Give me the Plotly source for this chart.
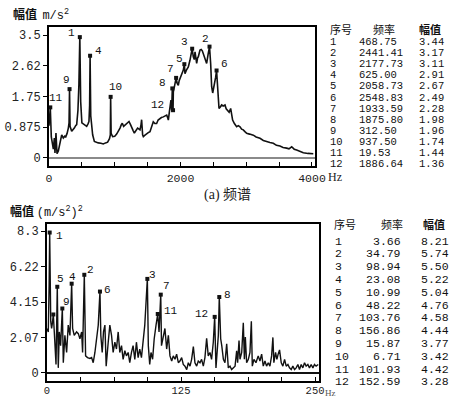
import plotly.graph_objects as go

# ---------------- data: (a) spectrum ----------------
top_freq = [
    0, 10, 19.53, 35, 55, 66, 81, 91, 106, 122,
    142, 167, 193, 218, 240, 254, 275, 294, 305, 312.5,
    320, 345, 365, 385, 405, 421, 440, 455, 468.75, 482,
    500, 537, 573, 595, 608, 618, 625, 635, 664, 690,
    720, 750, 790, 826, 860, 892, 920, 933, 937.5, 945,
    968, 1000, 1029, 1055, 1080, 1100, 1115, 1135, 1156, 1180,
    1217, 1240, 1257, 1280, 1298, 1320, 1348, 1370, 1384, 1400,
    1409, 1424, 1435, 1460, 1485, 1510, 1536, 1560, 1586, 1610,
    1637, 1660, 1688, 1710, 1739, 1765, 1790, 1805, 1815, 1830,
    1840, 1855, 1866, 1875.8, 1886.64, 1891, 1910, 1933.59, 1950, 1967,
    1980, 1992, 2020, 2043, 2058.73, 2068, 2090, 2119, 2144, 2160,
    2177.73, 2195, 2210, 2221, 2235, 2246, 2260, 2271, 2297, 2315,
    2332, 2350, 2362, 2380, 2398, 2420, 2441.41, 2459, 2474, 2490,
    2499, 2515, 2535, 2548.83, 2560, 2575, 2586, 2606, 2626, 2650,
    2677, 2695, 2712, 2740, 2763, 2780, 2793, 2820, 2854, 2880,
    2905, 2930, 2955, 2980, 3007, 3050, 3108, 3150, 3209, 3260,
    3311, 3360, 3412, 3460, 3513, 3560, 3615, 3650, 3691, 3730,
    3767, 3820, 3868, 3940, 4020,
]
top_amp = [
    0.92, 1.10, 1.44, 0.60, 0.30, 0.25, 0.57, 0.14, 0.71, 0.12,
    0.20, 0.47, 0.66, 0.57, 0.62, 0.60, 0.70, 0.85, 1.00, 1.96,
    0.90, 0.76, 0.80, 0.85, 0.92, 0.95, 1.35, 2.10, 3.44, 1.60,
    1.00, 0.95, 0.90, 0.98, 1.04, 1.50, 2.91, 1.20, 0.66, 0.47,
    0.44, 0.43, 0.42, 0.40, 0.43, 0.45, 0.55, 0.66, 1.74, 0.70,
    0.61, 0.62, 0.68, 0.75, 0.85, 0.95, 0.99, 0.90, 0.93, 0.98,
    1.04, 0.95, 0.85, 0.78, 0.71, 0.78, 0.85, 0.82, 0.80, 0.95,
    1.09, 0.66, 0.61, 0.65, 0.70, 0.72, 0.75, 0.88, 1.03, 0.98,
    0.98, 1.08, 1.13, 1.15, 1.17, 1.20, 1.22, 1.15, 1.08, 1.30,
    1.46, 1.65, 1.36, 1.98, 1.36, 1.88, 2.05, 2.28, 2.12, 2.07,
    2.20, 2.26, 2.35, 2.50, 2.67, 2.40, 2.50, 2.59, 2.78, 2.90,
    3.11, 2.88, 2.80, 3.02, 2.85, 2.69, 2.85, 2.88, 3.07, 3.09,
    3.05, 2.93, 2.85, 2.75, 2.69, 2.95, 3.17, 2.69, 2.03, 1.85,
    1.93, 2.10, 2.30, 2.49, 2.12, 1.80, 1.41, 1.45, 1.51, 1.48,
    1.51, 1.40, 1.36, 1.30, 1.41, 1.20, 1.08, 0.98, 0.89, 0.92,
    0.89, 0.82, 0.80, 0.75, 0.70, 0.68, 0.65, 0.60, 0.56, 0.50,
    0.46, 0.44, 0.42, 0.36, 0.34, 0.30, 0.28, 0.26, 0.32, 0.25,
    0.23, 0.18, 0.15, 0.13, 0.12,
]
top_tbl_no = ["1", "2", "3", "4", "5", "6", "7", "8", "9", "10", "11", "12"]
top_tbl_freq = [468.75, 2441.41, 2177.73, 625.00, 2058.73, 2548.83,
                1933.59, 1875.80, 312.50, 937.50, 19.53, 1886.64]
top_tbl_amp = [3.44, 3.17, 3.11, 2.91, 2.67, 2.49, 2.28, 1.98, 1.96, 1.74, 1.44, 1.36]
top_yticks = [0, 0.875, 1.75, 2.62, 3.5]
top_ytext = ["0", "0.875", "1.75", "2.62", "3.5"]
top_xticks = [0, 2000, 4000]
top_xminor = 500

# ---------------- data: power spectrum ----------------
bot_freq = [
    0, 1.2, 2.0, 2.5, 3.5, 4.3, 5.0, 5.9, 6.8, 7.4,
    8.4, 9.6, 10.5, 11.5, 12.7, 14.3, 15.2, 16.7, 18.3, 19.8,
    21.4, 23.0, 23.9, 25.4, 27.6, 29.2, 30.7, 32.3, 33.2, 34.8,
    36.0, 37.8, 40.0, 41.6, 43.1, 44.7, 46.2, 47.8, 49.4, 50.2,
    51.5, 52.7, 54.0, 55.2, 57.1, 58.6, 60.2, 61.7, 63.3, 64.8,
    66.4, 67.9, 69.5, 71.0, 72.6, 74.1, 75.7, 77.2, 78.8, 80.3,
    81.9, 83.4, 85.0, 86.5, 88.1, 89.6, 91.2, 93.6, 94.5, 95.8,
    97.0, 98.5, 100.0, 101.7, 103.3, 104.5, 106.1, 106.8, 108.5, 110.0,
    111.6, 113.2, 114.7, 116.3, 117.8, 119.4, 120.9, 122.5, 124.0, 125.6,
    127.1, 128.7, 130.3, 131.8, 133.4, 134.9, 136.5, 138.0, 139.6, 141.1,
    142.7, 144.2, 145.8, 147.3, 148.9, 150.4, 152.0, 153.5, 155.1, 156.4,
    157.6, 158.8, 159.8, 160.7, 162.0, 163.0, 164.5, 166.0, 167.6, 169.1,
    170.7, 172.2, 173.8, 175.4, 176.9, 177.8, 179.1, 180.0, 181.6, 183.1,
    184.1, 185.0, 186.2, 187.8, 189.3, 190.6, 191.5, 193.0, 194.9, 197.0,
    198.6, 200.2, 201.7, 203.3, 204.8, 206.4, 207.9, 209.5, 210.7, 211.6,
    213.2, 214.4, 215.6, 216.9, 218.5, 220.0, 221.6, 223.1, 224.7, 226.2,
    227.8, 229.3, 230.9, 232.4, 234.0, 235.5, 237.1, 238.6, 240.2, 241.7,
    243.3, 244.8, 246.4, 248.0, 249.5, 251.0, 253.0,
]
bot_amp = [
    2.6, 2.4, 5.2, 8.21, 3.0, 2.6, 2.9, 3.42, 2.4, 1.8,
    0.5, 5.04, 0.3, 2.4, 1.6, 3.77, 0.6, 2.2, 1.2, 2.8,
    2.2, 5.22, 2.6, 2.2, 2.4, 2.3, 2.0, 2.4, 1.2, 5.74,
    1.0, 0.9, 0.85, 0.9, 0.6, 1.2, 2.0, 2.8, 4.76, 2.2,
    1.2, 2.4, 2.8, 0.4, 1.8, 2.8, 2.2, 1.2, 1.8, 1.4,
    2.4, 1.2, 1.6, 0.8, 1.3, 1.0, 1.2, 0.6, 1.2, 1.6,
    0.8, 1.8, 0.9, 1.4, 0.9, 1.8, 2.8, 5.50, 1.6, 0.5,
    1.2, 0.8, 2.0, 2.8, 3.45, 2.4, 4.58, 1.6, 2.2, 2.6,
    1.4, 2.2, 1.0, 0.7, 1.0, 0.8, 1.1, 0.6, 0.7, 0.9,
    0.5, 0.4, 0.2, 0.6, 0.4, 0.8, 1.54, 0.6, 0.4, 0.7,
    0.6, 0.8, 0.4, 0.9, 2.03, 1.0, 1.2, 0.8, 1.8, 3.28,
    0.3, 1.8, 2.2, 4.44, 2.0, 1.6, 0.8, 0.6, 1.7, 0.3,
    0.4, 0.2, 0.3, 0.4, 1.3, 0.6, 1.9, 0.8, 1.2, 2.93,
    0.8, 2.1, 0.6, 0.8, 1.2, 3.02, 0.4, 0.8, 0.6, 1.0,
    0.7, 1.1, 0.4, 0.7, 0.4, 0.6, 0.4, 1.0, 2.08, 0.6,
    1.2, 0.8, 1.1, 1.35, 0.6, 0.4, 0.8, 0.4, 0.5, 0.3,
    0.2, 0.4, 0.2, 0.3, 0.5, 0.2, 0.5, 0.3, 0.6, 0.4,
    0.5, 0.3, 0.5, 0.3, 0.5, 0.4, 0.5,
]
# peak positions as they appear on the drawn curve (numbered 1..12)
bot_peak_freq = [2.5, 34.8, 93.6, 23.0, 9.6, 49.4, 106.1, 160.7, 14.3, 5.9, 103.3, 156.4]
bot_peak_amp = [8.21, 5.74, 5.50, 5.22, 5.04, 4.76, 4.58, 4.44, 3.77, 3.42, 3.45, 3.28]
bot_tbl_no = ["1", "2", "3", "4", "5", "6", "7", "8", "9", "10", "11", "12"]
bot_tbl_freq = [3.66, 34.79, 98.94, 23.08, 10.99, 48.22, 103.76, 156.86, 15.87, 6.71, 101.93, 152.59]
bot_tbl_amp = [8.21, 5.74, 5.50, 5.22, 5.04, 4.76, 4.58, 4.44, 3.77, 3.42, 4.42, 3.28]
bot_yticks = [0, 2.07, 4.15, 6.22, 8.3]
bot_ytext = ["0", "2.07", "4.15", "6.22", "8.3"]
bot_xticks = [0, 125, 250]
bot_xminor = 31.25

# ---------------- layout helpers ----------------
W, H = 463, 399
MONO = "Liberation Mono, DejaVu Sans Mono, monospace"
CJK = "Noto Sans CJK SC, sans-serif"


def px(x):
    return x / W


def py(y):
    return 1 - y / H


fig = go.Figure()

fig.add_trace(go.Scatter(x=top_freq, y=top_amp, mode="lines",
                         line=dict(color="#111111", width=1.6),
                         xaxis="x", yaxis="y", showlegend=False, hoverinfo="skip"))
fig.add_trace(go.Scatter(x=top_tbl_freq, y=top_tbl_amp, mode="markers",
                         marker=dict(symbol="square", size=4, color="#111111"),
                         xaxis="x", yaxis="y", showlegend=False))
fig.add_trace(go.Scatter(x=bot_freq, y=bot_amp, mode="lines",
                         line=dict(color="#111111", width=1.4),
                         xaxis="x2", yaxis="y2", showlegend=False, hoverinfo="skip"))
fig.add_trace(go.Scatter(x=bot_peak_freq, y=bot_peak_amp, mode="markers",
                         marker=dict(symbol="square", size=4, color="#111111"),
                         xaxis="x2", yaxis="y2", showlegend=False))

tickfont = dict(family=MONO, size=12, color="#222")
common_x = dict(ticks="inside", ticklen=4, tickcolor="black", tickwidth=1,
                showline=True, mirror=True, linecolor="black", linewidth=2,
                showgrid=False, zeroline=False, tickmode="array",
                automargin=False)
common_y = dict(ticks="outside", ticklen=4, tickcolor="black", tickwidth=1,
                showline=True, mirror=True, linecolor="black", linewidth=2,
                showgrid=False, zeroline=True, tickfont=tickfont, tickmode="array",
                automargin=False)

fig.update_layout(
    template="none",
    width=W, height=H, autosize=False,
    margin=dict(l=0, r=0, t=0, b=0),
    paper_bgcolor="white", plot_bgcolor="white",
    xaxis=dict(domain=[px(49), px(315)], range=[0, 4046], anchor="y",
               tickvals=top_xticks, ticktext=[str(v) for v in top_xticks],
               tickfont=dict(family=MONO, size=11.5, color="#222"),
               minor=dict(ticks="inside", ticklen=4, tickcolor="black",
                          dtick=top_xminor, tick0=0, showgrid=False),
               **common_x),
    yaxis=dict(domain=[py(166), py(27)], range=[-0.228, 3.728], anchor="x",
               tickvals=top_yticks, ticktext=top_ytext,
               zerolinecolor="#8a8a8a", zerolinewidth=1.5, **common_y),
    xaxis2=dict(domain=[px(47), px(319)], range=[0, 253.7], anchor="y2",
                tickvals=bot_xticks, ticktext=[str(v) for v in bot_xticks],
                tickfont=dict(family=MONO, size=10.5, color="#222"),
                ticklabelstandoff=-2,
                minor=dict(ticks="inside", ticklen=4, tickcolor="black",
                           dtick=bot_xminor, tick0=0, showgrid=False),
                **common_x),
    yaxis2=dict(domain=[py(381), py(224)], range=[-0.468, 8.709], anchor="x2",
                tickvals=bot_yticks, ticktext=bot_ytext,
                zerolinecolor="#111111", zerolinewidth=1.5, **common_y),
)

ann = []
lblfont = dict(family=MONO, size=11, color="#111")
# peak number labels (offsets in pixels)
top_off = [(-8, -4), (-4, -8), (-8, -7), (8, -5), (-5, -5), (8, -7),
           (-6, -9), (-10, -5), (-3, -9), (5, -10), (6, -9), (-16, -5)]
for i, (dx, dy) in enumerate(top_off):
    ann.append(dict(x=top_tbl_freq[i], y=top_tbl_amp[i], xref="x", yref="y",
                    text=top_tbl_no[i], showarrow=False, xshift=dx, yshift=-dy,
                    font=lblfont))
bot_off = [(10, 3), (6, -5), (5, -4), (1, -7), (3, -8), (8, -2),
           (6, -9), (8, -2), (4, -7), None, (13, -3), (-13, -3)]
for i, off in enumerate(bot_off):
    if off is None:
        continue
    dx, dy = off
    ann.append(dict(x=bot_peak_freq[i], y=bot_peak_amp[i], xref="x2", yref="y2",
                    text=bot_tbl_no[i], showarrow=False, xshift=dx, yshift=-dy,
                    font=lblfont))


def txt(x, y, s, font, xanchor="left"):
    ann.append(dict(x=px(x), y=py(y), xref="paper", yref="paper", text=s,
                    showarrow=False, xanchor=xanchor, yanchor="middle", font=font,
                    borderpad=0))


cjk12 = dict(family=CJK, size=12, color="#111")
# axis titles / units
txt(12, 14, "<b>幅值</b>  <span style='font-family:Liberation Mono'>m/s<sup>2</sup></span>", cjk12)
txt(9, 211, "<b>幅值</b> <span style='font-family:Liberation Mono'>(m/s<sup>2</sup>)<sup>2</sup></span>", cjk12)
txt(327, 177, "Hz", dict(family="Liberation Serif", size=12, color="#222"))
txt(324, 393, "Hz", dict(family="Liberation Serif", size=9, color="#555"))
txt(203, 195, "(a) 频谱", dict(family="Liberation Serif, Noto Sans CJK SC", size=14, color="#222"))

# table (a)
hdr = dict(family=CJK, size=11, color="#111")
tf = dict(family=MONO, size=10.5, color="#111")
txt(329, 29, "序号", hdr)
txt(372, 29, "频率", hdr)
txt(418, 29, "<b>幅值</b>", hdr)
for i in range(len(top_tbl_no)):
    yy = 42 + i * 11.1
    txt(329, yy, top_tbl_no[i], tf)
    txt(358, yy, f"{top_tbl_freq[i]:.2f}", tf)
    txt(418, yy, f"{top_tbl_amp[i]:.2f}", tf)

# table (b)
tf2 = dict(family=MONO, size=11.5, color="#111")
txt(333, 224, "序号", hdr)
txt(380, 224, "频率", hdr)
txt(422, 224, "<b>幅值</b>", hdr)
for i in range(len(bot_tbl_no)):
    yy = 241 + i * 12.8
    txt(334, yy, bot_tbl_no[i], tf2)
    txt(402, yy, f"{bot_tbl_freq[i]:.2f}", tf2, xanchor="right")
    txt(420, yy, f"{bot_tbl_amp[i]:.2f}", tf2)

fig.update_layout(annotations=ann)
fig.write_html("out.html",
               config={"displayModeBar": False},
               post_script="document.body.style.margin='0';document.body.style.padding='0';")
